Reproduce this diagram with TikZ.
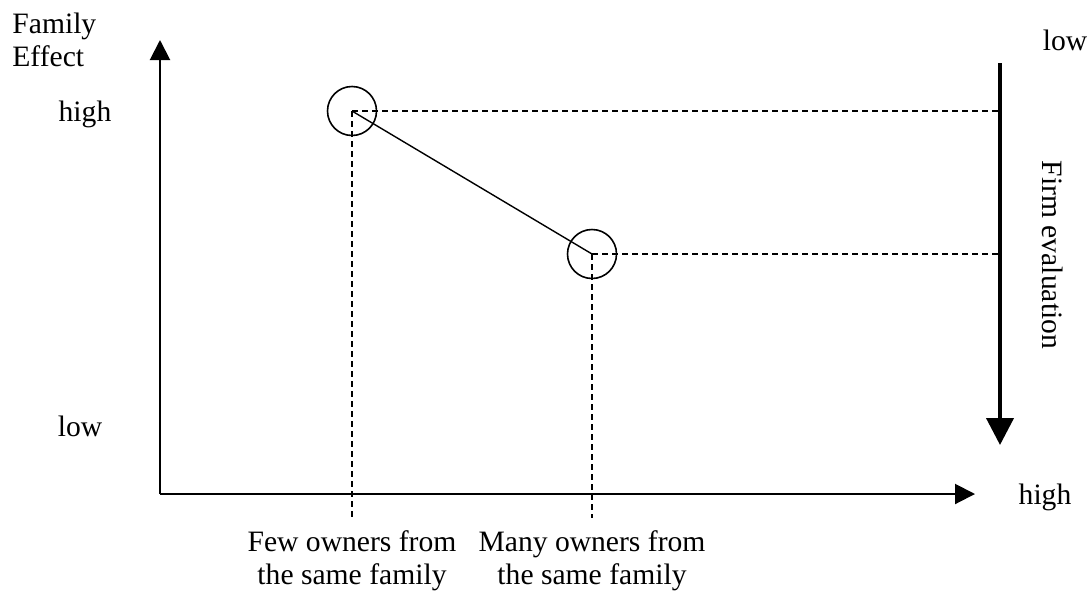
\documentclass[tikz,border=0pt]{standalone}
\usepackage{fontspec}
\setmainfont{Liberation Serif}
\usetikzlibrary{arrows.meta}
\tikzset{
  point/.style={circle,draw,line width=0.8pt,minimum size=24.5pt,inner sep=0pt},
  guide/.style={line width=0.8pt,dash pattern=on 3pt off 2pt},
  link/.style={line width=0.7pt},
  axis/.style={-{Triangle[length=10pt,width=10pt]},line width=1pt},
  trend/.style={-{Triangle[length=13.5pt,width=13.5pt]},line width=2pt},
  lbl/.style={font=\fontsize{14.8}{16.5}\selectfont,inner sep=0pt,align=center},
}
\begin{document}
\begin{tikzpicture}[x=0.5pt,y=-0.5pt]
  \useasboundingbox (0,0) rectangle (1091,600);
  % axes
  \coordinate (origin) at (160,494);
  \coordinate (ytop) at (160,40);
  \coordinate (xend) at (975,494);
  \draw[axis] (origin) -- (ytop);
  \draw[axis] (origin) -- (xend);
  % the two points
  \node[point] (few) at (352,111) {};
  \node[point] (many) at (592,254) {};
  \draw[link] (few.center) -- (many.center);
  % guide lines
  \coordinate (fewbot) at (352,518);
  \coordinate (manybot) at (592,518);
  \coordinate (fewright) at (1000,111);
  \coordinate (manyright) at (1000,254);
  \draw[guide] (few.center) -- (fewbot);
  \draw[guide] (many.center) -- (manybot);
  \draw[guide] (few.center) -- (fewright);
  \draw[guide] (many.center) -- (manyright);
  % firm evaluation arrow
  \coordinate (evtop) at (1000,63);
  \coordinate (evbot) at (1000,445);
  \draw[trend] (evtop) -- (evbot);
  % labels
  \node[lbl,align=left,anchor=west] (ylabel) at (12,40) {Family\\Effect};
  \node[lbl] (yhigh) at (85,114) {high};
  \node[lbl] (ylow) at (80,426) {low};
  \node[lbl] (xhigh) at (1045,497) {high};
  \node[lbl] (evlow) at (1065,40) {low};
  \node[lbl,rotate=-90] (evlabel) at (1053,255) {Firm evaluation};
  \node[lbl] (fewlabel) at (352,561) {Few owners from\\the same family};
  \node[lbl] (manylabel) at (592,561) {Many owners from\\the same family};
\end{tikzpicture}
\end{document}
